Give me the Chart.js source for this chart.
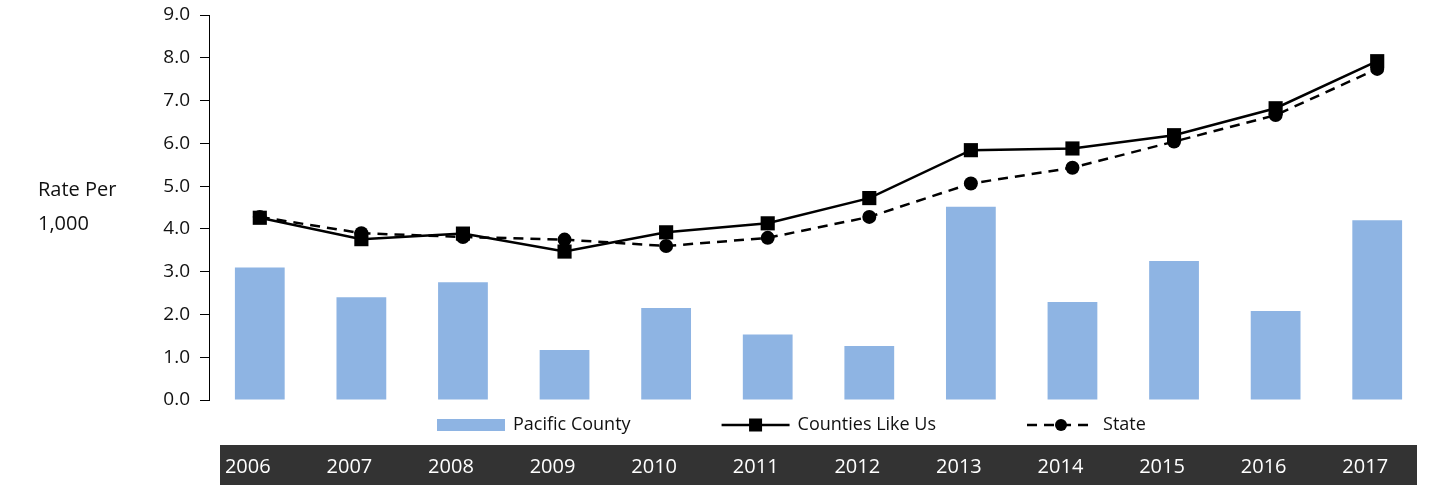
<!DOCTYPE html>
<html lang="en">
<head>
<meta charset="UTF-8">
<title>Rate Per 1,000</title>
<script src="https://cdn.jsdelivr.net/npm/chart.js@4.4.1/dist/chart.umd.min.js"></script>
<style>
  body { margin: 0; background: #fff; }
  #chart { display: block; }
</style>
</head>
<body>
<canvas id="chart" width="1438" height="485"></canvas>
<script>
// data
const years = ['2006', '2007', '2008', '2009', '2010', '2011', '2012', '2013', '2014', '2015', '2016', '2017'];
const pacificCounty = [3.1, 2.4, 2.75, 1.17, 2.15, 1.53, 1.26, 4.52, 2.29, 3.25, 2.08, 4.2];
const countiesLikeUs = [4.26, 3.76, 3.89, 3.47, 3.92, 4.13, 4.72, 5.84, 5.88, 6.19, 6.82, 7.92];
const stateRate = [4.28, 3.9, 3.81, 3.75, 3.6, 3.79, 4.28, 5.06, 5.43, 6.04, 6.66, 7.74];
const yTitle = ['Rate Per', '1,000'];

const FONT = "'Open Sans', 'DejaVu Sans', sans-serif";
const BAR_COLOR = '#8EB4E3';

// legend, band behind the year labels, y title
const decor = {
  id: 'decor',
  beforeDraw(chart) {
    const { ctx, chartArea } = chart;
    const band = chart.scales.x2;
    ctx.save();
    ctx.fillStyle = '#333333';
    ctx.fillRect(chartArea.left + 11, band.top, chartArea.right - chartArea.left - 22, band.bottom - band.top);
    ctx.restore();
  },
  afterDraw(chart) {
    const { ctx } = chart;
    ctx.save();
    ctx.fillStyle = '#111';
    ctx.textBaseline = 'middle';
    ctx.font = '20px ' + FONT;
    yTitle.forEach((t, i) => ctx.fillText(t, 38, 190 + i * 34));

    // legend
    ctx.font = '18px ' + FONT;
    const cy = 425;
    let x = 437;
    chart.data.datasets.forEach((ds) => {
      if (ds.type === 'bar') {
        ctx.fillStyle = ds.backgroundColor;
        ctx.fillRect(x, cy - 6, 68, 12);
      } else {
        ctx.strokeStyle = '#000';
        ctx.lineWidth = 2.5;
        ctx.setLineDash(ds.borderDash || []);
        ctx.beginPath();
        ctx.moveTo(x, cy);
        ctx.lineTo(x + 68, cy);
        ctx.stroke();
        ctx.setLineDash([]);
        ctx.fillStyle = '#000';
        if (ds.pointStyle === 'rect') {
          ctx.fillRect(x + 34 - 6.5, cy - 6.5, 13, 13);
        } else {
          ctx.beginPath();
          ctx.arc(x + 34, cy, 6, 0, Math.PI * 2);
          ctx.fill();
        }
      }
      ctx.fillStyle = '#111';
      ctx.fillText(ds.label, x + 76, cy);
      x += 76 + ctx.measureText(ds.label).width + 91;
    });
    ctx.restore();
  }
};

new Chart(document.getElementById('chart'), {
  data: {
    labels: years,
    datasets: [
      {
        type: 'bar',
        label: 'Pacific County',
        data: pacificCounty,
        backgroundColor: BAR_COLOR,
        barPercentage: 0.49,
        categoryPercentage: 1,
        order: 3
      },
      {
        type: 'line',
        label: 'Counties Like Us',
        data: countiesLikeUs,
        borderColor: '#000',
        backgroundColor: '#000',
        borderWidth: 2.5,
        pointStyle: 'rect',
        pointRadius: 10,
        pointBorderWidth: 0,
        tension: 0,
        order: 1
      },
      {
        type: 'line',
        label: 'State',
        data: stateRate,
        borderColor: '#000',
        backgroundColor: '#000',
        borderWidth: 2.5,
        borderDash: [10, 7],
        pointStyle: 'circle',
        pointRadius: 7,
        pointBorderWidth: 0,
        tension: 0,
        order: 2
      }
    ]
  },
  options: {
    responsive: false,
    animation: false,
    layout: { padding: { top: 15, right: 9, left: 0, bottom: 0 } },
    plugins: {
      legend: { display: false },
      tooltip: { enabled: false }
    },
    scales: {
      x: {
        offset: true,
        grid: { display: false },
        border: { display: false },
        ticks: { display: false },
        afterFit(s) { s.height = 45; }
      },
      x2: {
        type: 'category',
        labels: years,
        position: 'bottom',
        weight: 1,
        offset: true,
        grid: { display: false, drawTicks: false },
        border: { display: false },
        ticks: {
          color: '#fff',
          padding: 10,
          labelOffset: -12,
          maxRotation: 0,
          autoSkip: false,
          font: { size: 20, family: FONT }
        },
        afterFit(s) { s.height = 40; }
      },
      y: {
        min: 0,
        max: 9,
        grid: { drawOnChartArea: false, color: '#000', tickLength: 9 },
        border: { color: '#000', width: 1 },
        ticks: {
          stepSize: 1,
          padding: 10,
          color: '#111',
          font: { size: 19, family: FONT },
          callback: (v) => v.toFixed(1)
        },
        afterFit(s) { s.width = 209; s.paddingTop = 0; s.paddingBottom = 0; }
      }
    }
  },
  plugins: [decor]
});
</script>
</body>
</html>
